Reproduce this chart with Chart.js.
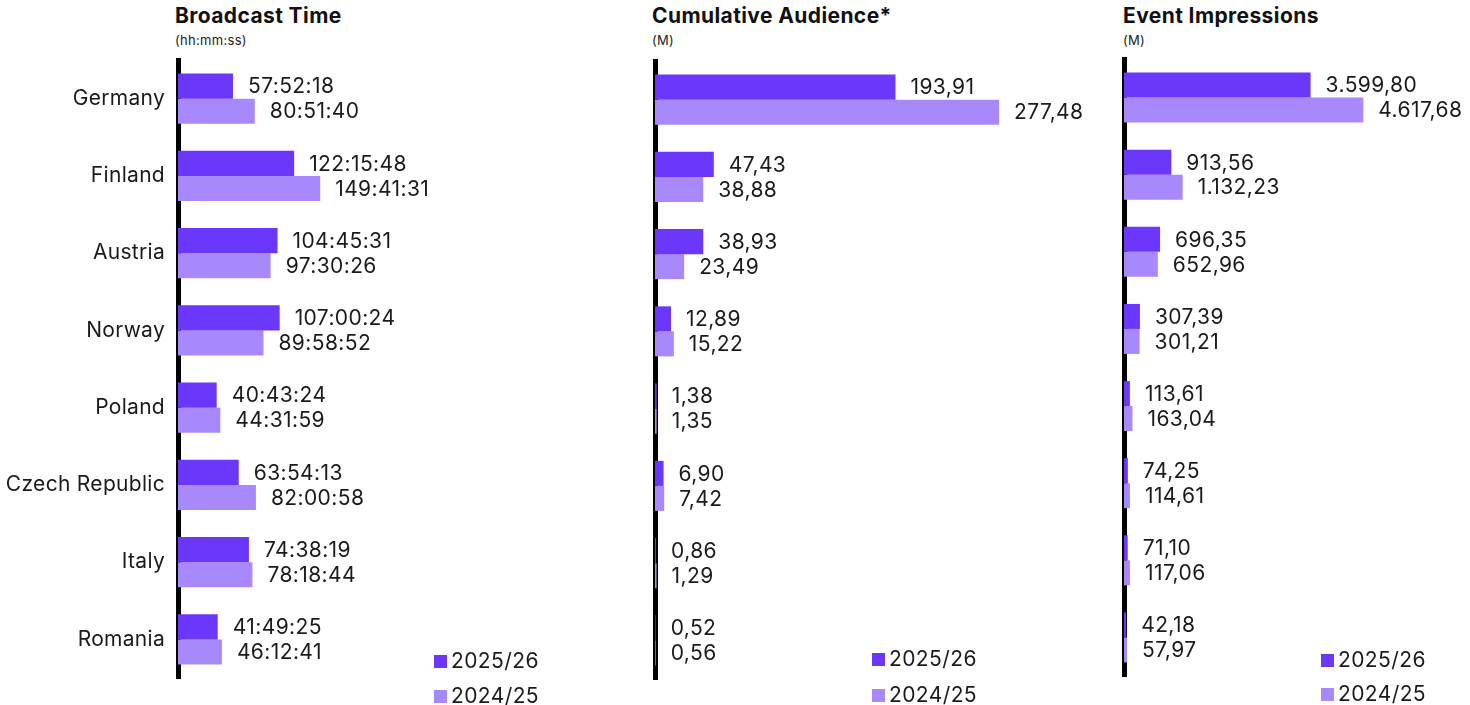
<!DOCTYPE html>
<html>
<head>
<meta charset="utf-8">
<script src="https://cdn.jsdelivr.net/npm/chart.js@4.4.1/dist/chart.umd.min.js"></script>
<style>
  html, body { margin: 0; padding: 0; background: #fff; }
  body { width: 1470px; height: 705px; position: relative; overflow: hidden; font-family: 'Inter', sans-serif; color: #111; }
  .panel { position: absolute; top: 0; height: 705px; }
  .title { position: absolute; top: 3px; font-weight: 700; font-size: 21px; line-height: 26px; white-space: nowrap; letter-spacing: 0.4px; }
  .sub { position: absolute; top: 32px; font-size: 13px; line-height: 16px; white-space: nowrap; color: #222; letter-spacing: 0.3px; }
</style>
</head>
<body>
<div class="title" style="left:175px">Broadcast Time</div>
<div class="sub" style="left:175px">(hh:mm:ss)</div>
<div class="title" style="left:652px">Cumulative Audience*</div>
<div class="sub" style="left:652px">(M)</div>
<div class="title" style="left:1123px">Event Impressions</div>
<div class="sub" style="left:1123px">(M)</div>

<div class="panel" style="left:0px;width:598px"><canvas id="c1"></canvas></div>
<div class="panel" style="left:640px;width:467px"><canvas id="c2"></canvas></div>
<div class="panel" style="left:1110px;width:360px"><canvas id="c3"></canvas></div>

<script>
// ---- data ----
var countries = ['Germany', 'Finland', 'Austria', 'Norway', 'Poland', 'Czech Republic', 'Italy', 'Romania'];
var seasons = ['2025/26', '2024/25'];

var broadcast2526 = ['57:52:18', '122:15:48', '104:45:31', '107:00:24', '40:43:24', '63:54:13', '74:38:19', '41:49:25'];
var broadcast2425 = ['80:51:40', '149:41:31', '97:30:26', '89:58:52', '44:31:59', '82:00:58', '78:18:44', '46:12:41'];

var audience2526 = [193.91, 47.43, 38.93, 12.89, 1.38, 6.90, 0.86, 0.52];
var audience2425 = [277.48, 38.88, 23.49, 15.22, 1.35, 7.42, 1.29, 0.56];

var impressions2526 = [3599.80, 913.56, 696.35, 307.39, 113.61, 74.25, 71.10, 42.18];
var impressions2425 = [4617.68, 1132.23, 652.96, 301.21, 163.04, 114.61, 117.06, 57.97];

var DARK = '#6b37fb';
var LIGHT = '#a889fb';
var FONT = "'Inter', sans-serif";

// hh:mm:ss -> hours
function toHours(s) {
    var p = s.split(':');
    return +p[0] + p[1] / 60 + p[2] / 3600;
}

// 3599.8 -> "3.599,80"
function fmt(v) {
    var parts = v.toFixed(2).split('.');
    var intPart = parts[0].replace(/\B(?=(\d{3})+(?!\d))/g, '.');
    return intPart + ',' + parts[1];
}

// the source font runs a little wider than Inter, spread the letters a bit
var spacing = {
    id: 'spacing',
    beforeDraw: function (chart) {
        chart.ctx.letterSpacing = '0.3px';
    }
};

// value labels to the right of each bar
var valueLabels = {
    id: 'valueLabels',
    afterDatasetsDraw: function (chart, args, opts) {
        var ctx = chart.ctx;
        ctx.save();
        ctx.letterSpacing = '0.4px';
        ctx.font = '21px ' + FONT;
        ctx.fillStyle = '#1a1a1a';
        ctx.textBaseline = 'middle';
        ctx.textAlign = 'left';
        chart.data.datasets.forEach(function (ds, i) {
            var meta = chart.getDatasetMeta(i);
            meta.data.forEach(function (bar, j) {
                ctx.fillText(opts.text[i][j], bar.x + 15, bar.y + 1);
            });
        });
        ctx.restore();
    }
};

// small square legend in the lower right corner
var cornerLegend = {
    id: 'cornerLegend',
    afterDraw: function (chart, args, opts) {
        var ctx = chart.ctx;
        ctx.save();
        ctx.letterSpacing = '0.4px';
        ctx.font = '21px ' + FONT;
        ctx.textBaseline = 'middle';
        chart.data.datasets.forEach(function (ds, i) {
            var y = opts.y[i];
            ctx.fillStyle = ds.backgroundColor;
            ctx.fillRect(opts.x, y - 6, 13, 13);
            ctx.fillStyle = '#1a1a1a';
            ctx.fillText(ds.label, opts.x + 17, y + 1);
        });
        ctx.restore();
    }
};

function makeChart(id, cfg) {
    var el = document.getElementById(id);
    var box = el.parentNode;
    el.width = box.clientWidth;
    el.height = 705;
    return new Chart(el, {
        type: 'bar',
        data: {
            labels: countries,
            datasets: [
                { label: seasons[0], data: cfg.a, backgroundColor: DARK, borderWidth: 0 },
                { label: seasons[1], data: cfg.b, backgroundColor: LIGHT, borderWidth: 0 }
            ]
        },
        options: {
            indexAxis: 'y',
            responsive: false,
            animation: false,
            maintainAspectRatio: false,
            categoryPercentage: 0.648,
            barPercentage: 1,
            layout: { padding: { top: cfg.top, bottom: cfg.bottom, right: cfg.right, left: 0 } },
            scales: {
                x: { display: false, min: 0, max: cfg.max },
                y: {
                    z: 1,
                    grid: { display: false, drawTicks: false },
                    border: { display: true, color: '#000', width: 5 },
                    ticks: {
                        display: cfg.showTicks,
                        color: '#1a1a1a',
                        padding: 13,
                        font: { family: FONT, size: 21 }
                    },
                    afterFit: function (scale) { scale.width = cfg.axisW; }
                }
            },
            plugins: {
                legend: { display: false },
                tooltip: { enabled: false },
                valueLabels: { text: cfg.text },
                cornerLegend: cfg.legend
            }
        },
        plugins: [spacing, valueLabels, cornerLegend]
    });
}

makeChart('c1', {
    a: broadcast2526.map(toHours),
    b: broadcast2425.map(toHours),
    text: [broadcast2526, broadcast2425],
    max: 400, axisW: 178, top: 60, bottom: 27, right: 40, showTicks: true,
    legend: { x: 434, y: [661, 696] }
});

makeChart('c2', {
    a: audience2526,
    b: audience2425,
    text: [audience2526.map(fmt), audience2425.map(fmt)],
    max: 300, axisW: 15, top: 61, bottom: 26, right: 80, showTicks: false,
    legend: { x: 232, y: [659, 695] }
});

makeChart('c3', {
    a: impressions2526,
    b: impressions2425,
    text: [impressions2526.map(fmt), impressions2425.map(fmt)],
    max: 6000, axisW: 14, top: 59, bottom: 29, right: 35, showTicks: false,
    legend: { x: 211, y: [660, 694] }
});
</script>
</body>
</html>
